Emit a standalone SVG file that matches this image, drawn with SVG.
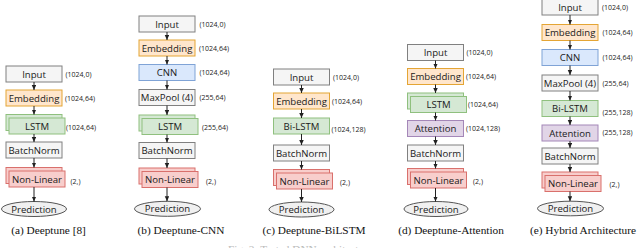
<svg xmlns="http://www.w3.org/2000/svg" width="640" height="248" viewBox="0 0 640 248">
<defs>
<marker id="ah" markerUnits="userSpaceOnUse" markerWidth="6" markerHeight="6" refX="5" refY="2.25" orient="auto"><path d="M0,0 L5,2.25 L0,4.5 z" fill="#222"/></marker>
<style>
.g{fill:#f5f5f5;stroke:#808080;stroke-width:1}
.o{fill:#ffe6cc;stroke:#e4a534;stroke-width:1}
.b{fill:#dae8fc;stroke:#7fa3d6;stroke-width:1}
.gr{fill:#d5e8d4;stroke:#8fc07e;stroke-width:1}
.r{fill:#f8cecc;stroke:#d9706c;stroke-width:1}
.p{fill:#e1d5e7;stroke:#a487b8;stroke-width:1}
.e{fill:#f0f0f0;stroke:#555;stroke-width:1}
.t{font-family:"Open Sans","DejaVu Sans",sans-serif;font-size:9.6px;fill:#1a1a1a;text-anchor:middle;dominant-baseline:central}
.l{font-family:"Open Sans","DejaVu Sans",sans-serif;font-size:7px;fill:#222;dominant-baseline:central}
.c{font-family:"Liberation Serif","Times New Roman",serif;font-size:11.3px;fill:#111;text-anchor:middle}
.f{font-family:"Liberation Serif","Times New Roman",serif;font-size:11.3px;fill:#bbb}
.a{stroke:#222;stroke-width:1;fill:none;marker-end:url(#ah)}
</style>
</defs>

<!-- Column (a) -->
<g id="a-input"><rect class="g" x="6" y="66" width="56" height="16"/><text class="t" x="34" y="74">Input</text><text class="l" x="65.5" y="74">(1024,0)</text></g>
<g id="a-emb"><rect class="o" x="6" y="90" width="56" height="16"/><text class="t" x="34" y="98">Embedding</text><text class="l" x="65" y="98">(1024,64)</text></g>
<g id="a-lstm"><rect class="gr" x="6" y="114.5" width="56" height="16"/><rect class="gr" x="9" y="118" width="56" height="16"/><text class="t" x="37" y="126">LSTM</text><text class="l" x="66" y="127">(1024,64)</text></g>
<g id="a-bn"><rect class="g" x="6" y="142" width="56" height="16"/><text class="t" x="34" y="150">BatchNorm</text></g>
<g id="a-nl"><rect class="r" x="6" y="167.5" width="56" height="16"/><rect class="r" x="9" y="171" width="56" height="16"/><text class="t" x="37" y="179">Non-Linear</text><text class="l" x="70.5" y="181">(2,)</text></g>
<g id="a-pred"><ellipse class="e" cx="34" cy="209" rx="32.5" ry="7.5"/><text class="t" x="34" y="209">Prediction</text></g>
<text class="c" x="48.5" y="234">(a) Deeptune [8]</text>

<!-- Column (b) -->
<g id="b-input"><rect class="g" x="139" y="16" width="56" height="16"/><text class="t" x="167" y="24">Input</text><text class="l" x="199.5" y="24">(1024,0)</text></g>
<g id="b-emb"><rect class="o" x="139" y="40" width="56" height="16"/><text class="t" x="167" y="48">Embedding</text><text class="l" x="199" y="48">(1024,64)</text></g>
<g id="b-cnn"><rect class="b" x="139" y="64.5" width="56" height="16"/><text class="t" x="167" y="72.5">CNN</text><text class="l" x="199.5" y="72.5">(1024,64)</text></g>
<g id="b-pool"><rect class="g" x="139" y="89.5" width="56" height="16"/><text class="t" x="167" y="97.5">MaxPool (4)</text><text class="l" x="199.5" y="97.5">(255,64)</text></g>
<g id="b-lstm"><rect class="gr" x="139" y="115" width="56" height="16"/><rect class="gr" x="142" y="118.5" width="56" height="16"/><text class="t" x="170" y="126.5">LSTM</text><text class="l" x="202" y="127">(255,64)</text></g>
<g id="b-bn"><rect class="g" x="139" y="142.5" width="56" height="16"/><text class="t" x="167" y="150.5">BatchNorm</text></g>
<g id="b-nl"><rect class="r" x="139" y="168" width="56" height="16"/><rect class="r" x="142" y="171.5" width="56" height="16"/><text class="t" x="170" y="179.5">Non-Linear</text><text class="l" x="206" y="181">(2,)</text></g>
<g id="b-pred"><ellipse class="e" cx="167.5" cy="208.8" rx="33" ry="7.5"/><text class="t" x="167.5" y="208.8">Prediction</text></g>
<text class="c" x="181" y="234">(b) Deeptune-CNN</text>

<!-- Column (c) -->
<g id="c-input"><rect class="g" x="273.5" y="69" width="56" height="16"/><text class="t" x="301.5" y="77">Input</text><text class="l" x="333" y="77">(1024,0)</text></g>
<g id="c-emb"><rect class="o" x="273.5" y="93" width="56" height="16"/><text class="t" x="301.5" y="101">Embedding</text><text class="l" x="332" y="101">(1024,64)</text></g>
<g id="c-bilstm"><rect class="gr" x="273.5" y="118" width="56" height="16"/><text class="t" x="301.5" y="126">Bi-LSTM</text><text class="l" x="331.5" y="129">(1024,128)</text></g>
<g id="c-bn"><rect class="g" x="273.5" y="145" width="56" height="16"/><text class="t" x="301.5" y="153">BatchNorm</text></g>
<g id="c-nl"><rect class="r" x="273.5" y="169.5" width="56" height="16"/><rect class="r" x="276.5" y="173" width="56" height="16"/><text class="t" x="304.5" y="181">Non-Linear</text><text class="l" x="340" y="182">(2,)</text></g>
<g id="c-pred"><ellipse class="e" cx="301.5" cy="209.5" rx="32.5" ry="7.5"/><text class="t" x="301.5" y="209.5">Prediction</text></g>
<text class="c" x="314" y="234">(c) Deeptune-BiLSTM</text>

<!-- Column (d) -->
<g id="d-input"><rect class="g" x="407.5" y="44.5" width="56" height="16"/><text class="t" x="435.5" y="52.5">Input</text><text class="l" x="466.5" y="52.5">(1024,0)</text></g>
<g id="d-emb"><rect class="o" x="407.5" y="68.5" width="56" height="16"/><text class="t" x="435.5" y="76.5">Embedding</text><text class="l" x="466" y="76.5">(1024,64)</text></g>
<g id="d-lstm"><rect class="gr" x="407.5" y="93" width="56" height="16"/><rect class="gr" x="410.5" y="96.5" width="56" height="16"/><text class="t" x="438.5" y="104.5">LSTM</text><text class="l" x="468" y="104.5">(1024,64)</text></g>
<g id="d-att"><rect class="p" x="407.5" y="120.5" width="56" height="16"/><text class="t" x="435.5" y="128.5">Attention</text><text class="l" x="466" y="128.7">(1024,128)</text></g>
<g id="d-bn"><rect class="g" x="407.5" y="145" width="56" height="16"/><text class="t" x="435.5" y="153">BatchNorm</text></g>
<g id="d-nl"><rect class="r" x="407.5" y="168.5" width="56" height="16"/><rect class="r" x="410.5" y="172" width="56" height="16"/><text class="t" x="438.5" y="180">Non-Linear</text><text class="l" x="473" y="181.5">(2,)</text></g>
<g id="d-pred"><ellipse class="e" cx="436" cy="209" rx="32" ry="7.5"/><text class="t" x="436" y="209">Prediction</text></g>
<text class="c" x="451" y="234">(d) Deeptune-Attention</text>

<!-- Column (e) -->
<g id="e-input"><rect class="g" x="542" y="-1" width="56" height="16"/><text class="t" x="570" y="7">Input</text><text class="l" x="602" y="7">(1024,0)</text></g>
<g id="e-emb"><rect class="o" x="542" y="24.5" width="56" height="16"/><text class="t" x="570" y="32.5">Embedding</text><text class="l" x="602.5" y="32.5">(1024,64)</text></g>
<g id="e-cnn"><rect class="b" x="542" y="49.5" width="56" height="16"/><text class="t" x="570" y="57.5">CNN</text><text class="l" x="602.5" y="57.5">(1024,64)</text></g>
<g id="e-pool"><rect class="g" x="542" y="75" width="56" height="16"/><text class="t" x="570" y="83">MaxPool (4)</text><text class="l" x="602.5" y="83">(255,64)</text></g>
<g id="e-bilstm"><rect class="gr" x="542" y="100.5" width="56" height="16"/><text class="t" x="570" y="108.5">Bi-LSTM</text><text class="l" x="602.5" y="112.3">(255,128)</text></g>
<g id="e-att"><rect class="p" x="542" y="125" width="56" height="16"/><text class="t" x="570" y="133">Attention</text><text class="l" x="602.5" y="132.7">(255,128)</text></g>
<g id="e-bn"><rect class="g" x="542" y="148" width="56" height="16"/><text class="t" x="570" y="156">BatchNorm</text></g>
<g id="e-nl"><rect class="r" x="542" y="172" width="56" height="16"/><rect class="r" x="545" y="175.5" width="56" height="16"/><text class="t" x="573" y="183.5">Non-Linear</text><text class="l" x="609.5" y="184">(2,)</text></g>
<g id="e-pred"><ellipse class="e" cx="570.5" cy="208.5" rx="33" ry="7.3"/><text class="t" x="570.5" y="208.5">Prediction</text></g>
<text class="c" x="583" y="234">(e) Hybrid Architecture</text>

<text class="f" x="228" y="253">Fig. 2: Tested DNN architectures.</text>

<g id="connectors">
<path class="a" d="M34,82 V90"/><path class="a" d="M34,106 V114.5"/><path class="a" d="M34,134 V142"/><path class="a" d="M34,158 V167.5"/><path class="a" d="M34,187 V201.5"/>
<path class="a" d="M167,32 V40"/><path class="a" d="M167,56 V64.5"/><path class="a" d="M167,80.5 V89.5"/><path class="a" d="M167,105.5 V115"/><path class="a" d="M167,134.5 V142.5"/><path class="a" d="M167,158.5 V168"/><path class="a" d="M167,187.5 V201.3"/>
<path class="a" d="M301.5,85 V93"/><path class="a" d="M301.5,109 V118"/><path class="a" d="M301.5,134 V145"/><path class="a" d="M301.5,161 V169.5"/><path class="a" d="M301.5,189 V202"/>
<path class="a" d="M435.5,60.5 V68.5"/><path class="a" d="M435.5,84.5 V93"/><path class="a" d="M435.5,112.5 V120.5"/><path class="a" d="M435.5,136.5 V145"/><path class="a" d="M435.5,161 V168.5"/><path class="a" d="M435.5,188 V201.5"/>
<path class="a" d="M570,15 V24.5"/><path class="a" d="M570,40.5 V49.5"/><path class="a" d="M570,65.5 V75"/><path class="a" d="M570,91 V100.5"/><path class="a" d="M570,116.5 V125"/><path class="a" d="M570,141 V148"/><path class="a" d="M570,164 V172"/><path class="a" d="M570,191.5 V201.2"/>
</g>
</svg>
